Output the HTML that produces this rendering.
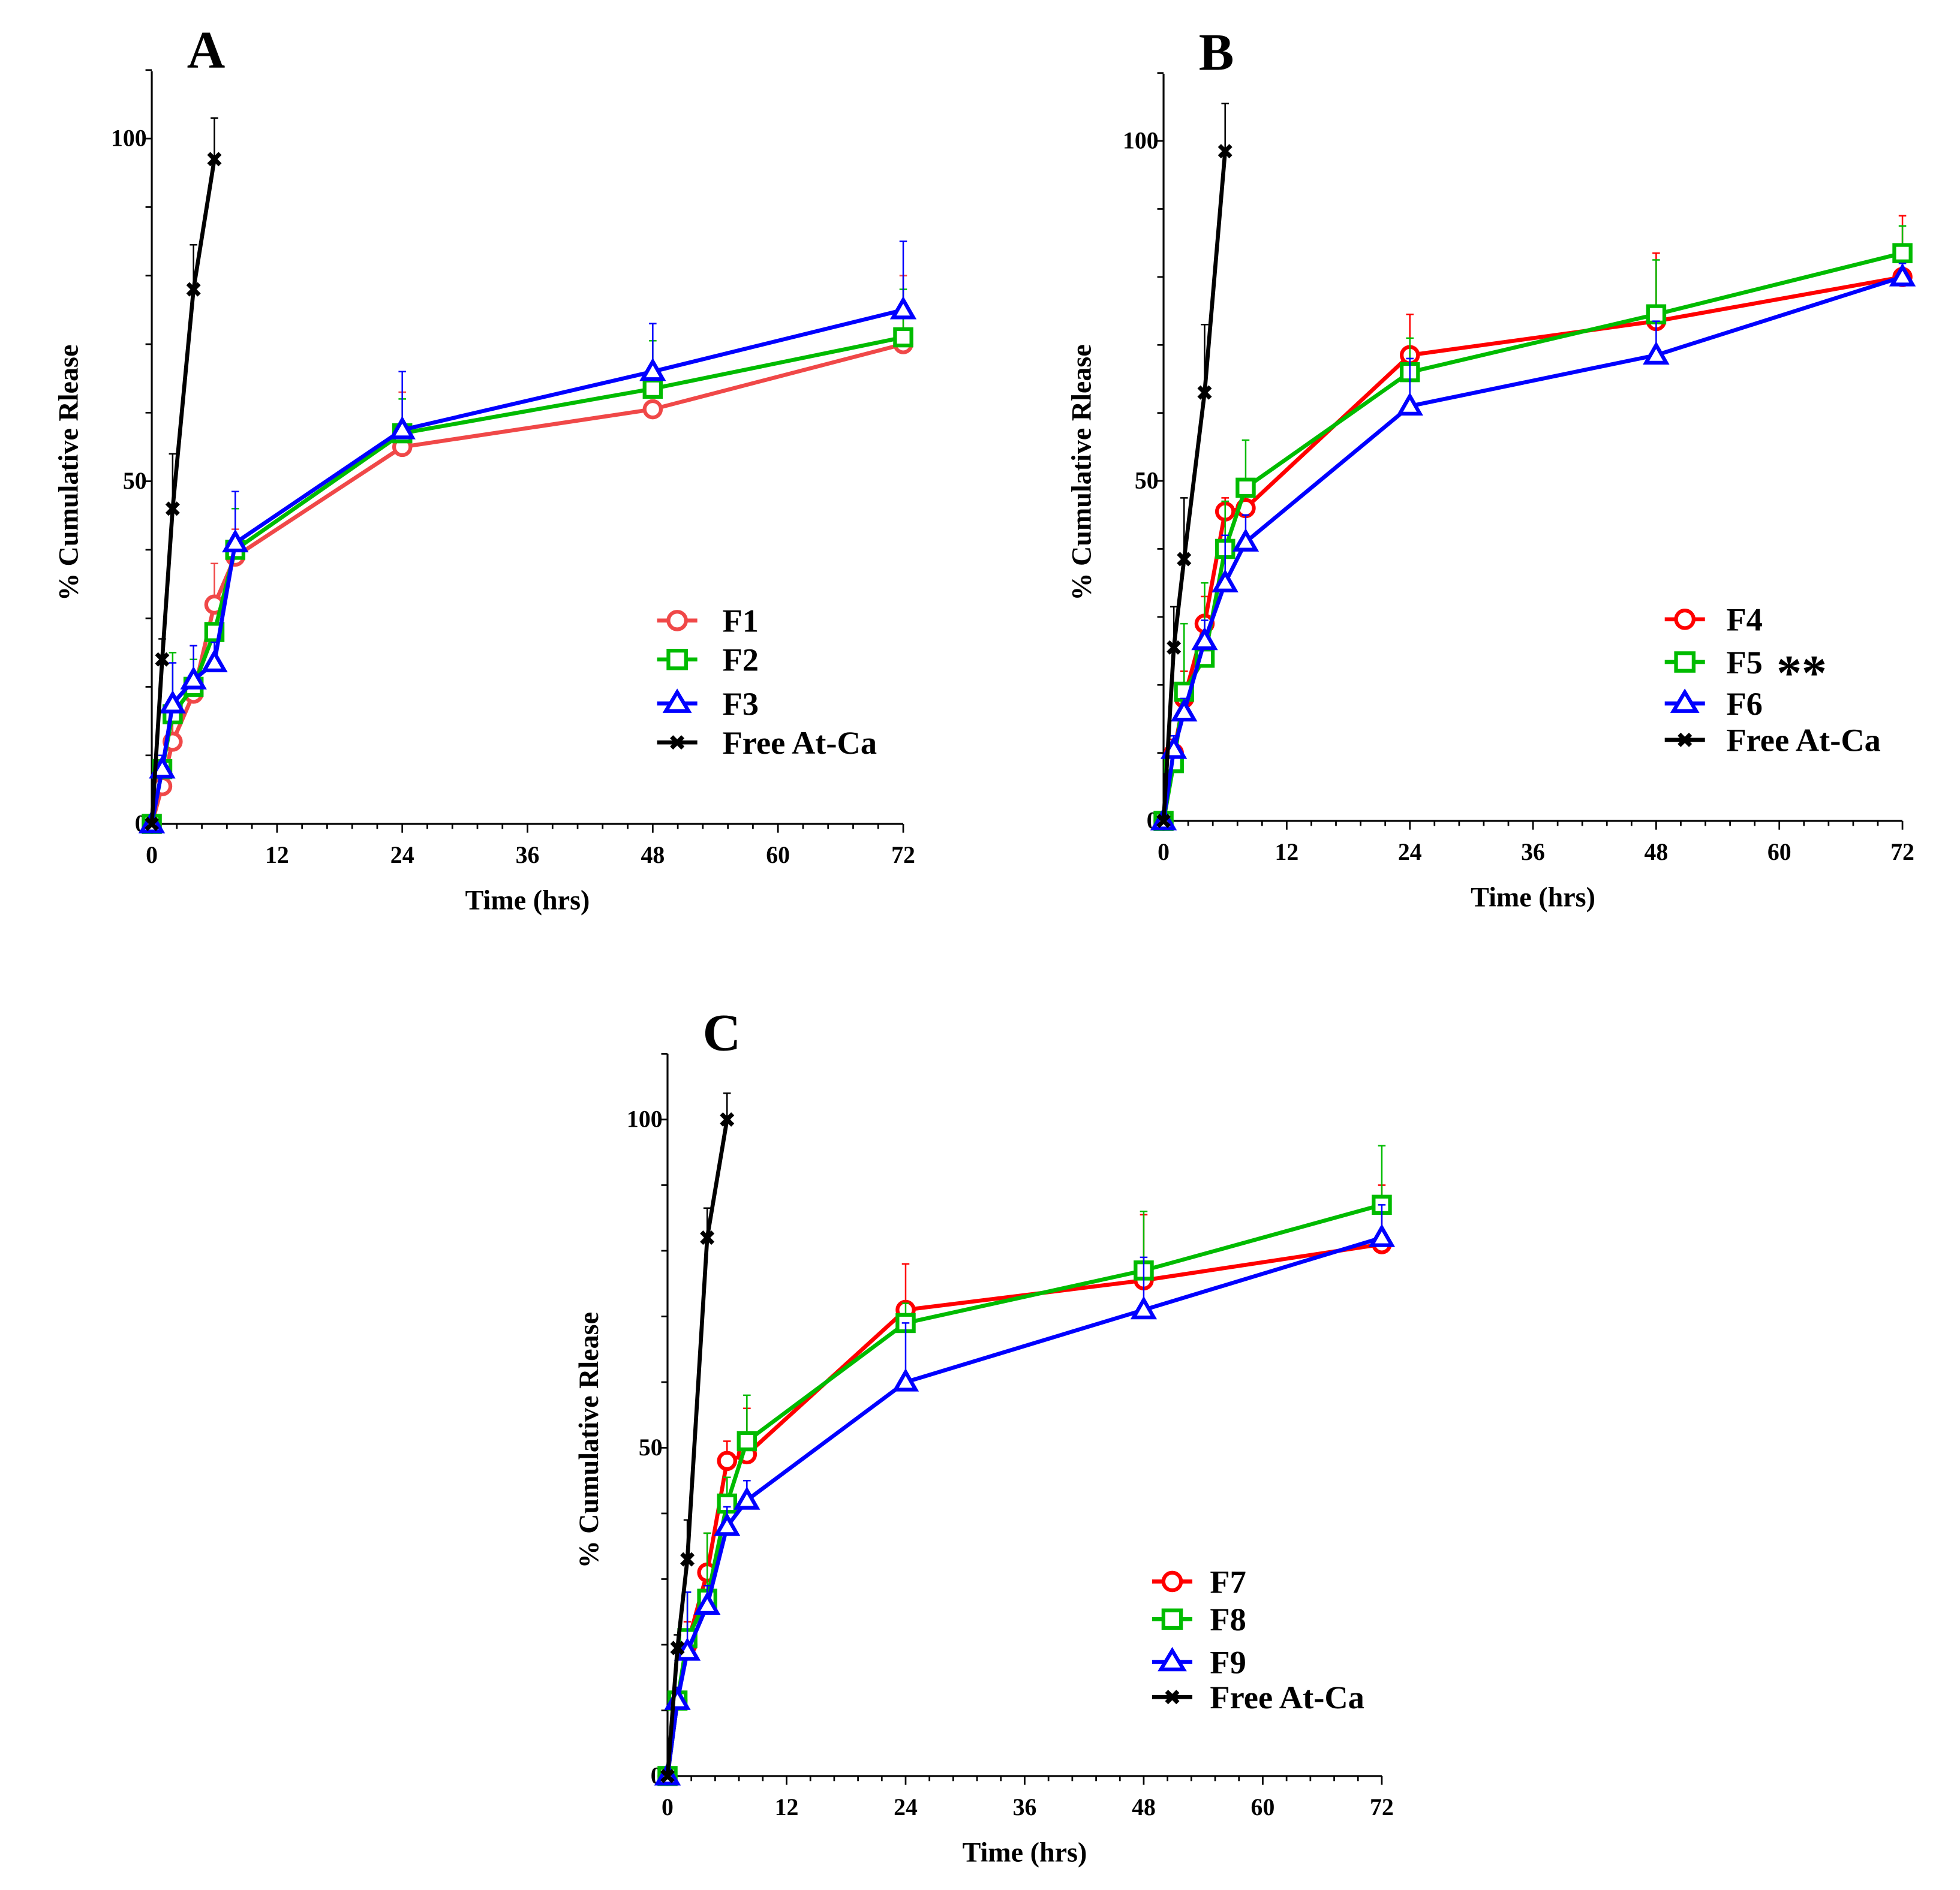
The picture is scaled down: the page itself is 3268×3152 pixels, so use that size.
<!DOCTYPE html>
<html><head><meta charset="utf-8"><style>
html,body{margin:0;padding:0;background:#fff;}
svg{display:block;font-family:"Liberation Serif",serif;font-weight:bold;}
</style></head><body>
<svg id="fig" width="3268" height="3152" viewBox="0 0 1560 1504.6" xmlns="http://www.w3.org/2000/svg"></svg>
<script>
const times=[0,1,2,4,6,8,24,48,72];
const freeTimes=[0,1,2,4,6];
// Panel A
const aF1=[0,5.5,12,19,32,39,55,60.5,70];
const aF1err=[0,2,4,7,6,4,8,0,10];
const aF2=[0,8,16,20,28,40,57,63.5,71];
const aF2err=[0,2,9,4,0,6,5,7,7];
const aF3=[0,8,17.5,21,23.5,41,57.5,66,75];
const aF3err=[0,2,6,5,3,7.5,8.5,7,10];
const aFree=[0,24,46,78,97];
const aFreeErr=[0,3,8,6.5,6];
// Panel B
const bF4=[0,10,18,29,45.5,46,68.5,73.5,80];
const bF4err=[0,2,4,4,2,3,6,10,9];
const bF5=[0,8.5,19,24,40,49,66,74.5,83.5];
const bF5err=[0,3,10,11,7,7,5,8,4];
const bF6=[0,10.5,16,26.5,35,41,61,68.5,80];
const bF6err=[0,2,2,3,7,4,7,5,2];
const bFree=[0,25.5,38.5,63,98.5];
const bFreeErr=[0,6,9,10,7];
// Panel C
const cF7=[0,11.5,20,31,48,49,71,75.5,81];
const cF7err=[0,2,3.5,6,3,7,7,10,9];
const cF8=[0,11.5,21,27,41.5,51,69,77,87];
const cF8err=[0,2,7,10,4,7,3,9,9];
const cF9=[0,11.5,19,26,38,42,60,71,82];
const cF9err=[0,2,9,3,3,3,9,8,5];
const cFree=[0,19.5,33,82,100];
const cFreeErr=[0,2,6,4.5,4];
const xTicks=[0,12,24,36,48,60,72];
const yTicks=[0,50,100];

const NS="http://www.w3.org/2000/svg";
const svg=document.getElementById('fig');
function mk(tag,attrs,parent){const e=document.createElementNS(NS,tag);for(const k in attrs)e.setAttribute(k,attrs[k]);(parent||svg).appendChild(e);return e;}

const RED='#ff0000',RED2='#f04848',GRN='#00bb00',BLU='#0000ff',BLK='#000000';

function marker(g,type,x,y,col){
  let m;
  if(type==='circle'){m=mk('circle',{cx:x,cy:y,r:6.5,fill:'#fff',stroke:col,'stroke-width':3},g);}
  else if(type==='square'){m=mk('rect',{x:x-6.5,y:y-6.5,width:13,height:13,fill:'#fff',stroke:col,'stroke-width':3},g);}
  else if(type==='tri'){m=mk('polygon',{points:`${x},${y-8} ${x-8},${y+6} ${x+8},${y+6}`,fill:'#fff',stroke:col,'stroke-width':3},g);}
  else {m=mk('path',{d:`M${x-4.5},${y-4.5}L${x+4.5},${y+4.5}M${x+4.5},${y-4.5}L${x-4.5},${y+4.5}`,stroke:col,'stroke-width':3.5},g);}
  
  
}

function panel(p){
  const g=mk('g',{});
  
  
  const sx=t=>p.x0+(p.x72-p.x0)*t/72;
  const sy=v=>p.y0-(p.y0-p.y100)*v/100;
  const ya=mk('line',{x1:p.x0,y1:p.y0,x2:p.x0,y2:p.top,stroke:'#000','stroke-width':1.5},g);
  
  const xa=mk('line',{x1:p.x0,y1:p.y0,x2:p.x72,y2:p.y0,stroke:'#000','stroke-width':1.5},g);
  
  for(let v=0;v<=110;v+=10){const y=sy(v);const big=(v%50===0);mk('line',{x1:p.x0-(big?7:5),y1:y,x2:p.x0,y2:y,stroke:'#000','stroke-width':1.3},g);}
  for(let i=0;i<=30;i++){const t=i*2.4;const x=sx(t);const big=(i%5===0);mk('line',{x1:x,y1:p.y0,x2:x,y2:p.y0+(big?7:4),stroke:'#000','stroke-width':1.3},g);}
  yTicks.forEach(v=>{const t=mk('text',{x:p.x0-4,y:sy(v)+6,'text-anchor':'end','font-size':19},g);t.textContent=v;});
  xTicks.forEach(v=>{const t=mk('text',{x:sx(v),y:p.y0+31,'text-anchor':'middle','font-size':19},g);t.textContent=v;});
  const xt=mk('text',{x:(p.x0+p.x72)/2,y:p.y0+68,'text-anchor':'middle','font-size':22},g);xt.textContent='Time (hrs)';
  
  const cy=(p.y0+p.top)/2+20;
  const yt=mk('text',{x:p.ylx,y:cy,'text-anchor':'middle','font-size':22,transform:`rotate(-90 ${p.ylx} ${cy})`},g);yt.textContent='% Cumulative Rlease';
  
  const pl=mk('text',{x:p.x0+28,y:p.top-3,'font-size':42},g);pl.textContent=p.id;
  
  p.series.forEach(s=>{
    const sg=mk('g',{},g);
    
    
    s.t.forEach((t,i)=>{if(s.err[i]>0){const x=sx(t),y1=sy(s.v[i]),y2=sy(s.v[i]+s.err[i]);
      const e=mk('path',{d:`M${x},${y1}L${x},${y2}M${x-3},${y2}L${x+3},${y2}`,stroke:s.col,'stroke-width':1.2,fill:'none'},sg);
      }});
    const pts=s.t.map((t,i)=>sx(t)+','+sy(s.v[i])).join(' ');
    const ln=mk('polyline',{points:pts,fill:'none',stroke:s.col,'stroke-width':3.2,'stroke-linejoin':'round'},sg);
    
    s.t.forEach((t,i)=>marker(sg,s.m,sx(t),sy(s.v[i]),s.col));
  });
  const lg=mk('g',{},g);
  
  p.series.forEach((s,i)=>{
    const y=p.leg.ys[i];
    const le=mk('g',{},lg);
    mk('line',{x1:p.leg.x-16,y1:y,x2:p.leg.x+16,y2:y,stroke:s.col,'stroke-width':3.2},le);
    const mm=s.m;
    if(mm==='x'){mk('path',{d:`M${p.leg.x-4.5},${y-4.5}L${p.leg.x+4.5},${y+4.5}M${p.leg.x+4.5},${y-4.5}L${p.leg.x-4.5},${y+4.5}`,stroke:s.col,'stroke-width':3.5},le);}
    else if(mm==='circle')mk('circle',{cx:p.leg.x,cy:y,r:7,fill:'#fff',stroke:s.col,'stroke-width':3},le);
    else if(mm==='square')mk('rect',{x:p.leg.x-7,y:y-7,width:14,height:14,fill:'#fff',stroke:s.col,'stroke-width':3},le);
    else mk('polygon',{points:`${p.leg.x},${y-9} ${p.leg.x-9},${y+6} ${p.leg.x+9},${y+6}`,fill:'#fff',stroke:s.col,'stroke-width':3},le);
    const tx=mk('text',{x:p.leg.tx,y:y+9,'font-size':26},le);tx.textContent=s.name;
    if(s.star){const st=mk('text',{x:p.leg.tx+40,y:y+22,'font-size':40},le);st.textContent='**';}
  });
}

panel({id:'A',x0:120.8,x72:718.9,y0:655.9,y100:110.3,top:56.7,ylx:61.7,
  leg:{x:539,tx:575,ys:[494,525,560,591]},
  series:[
   {name:'F1',t:times,v:aF1,err:aF1err,col:RED2,m:'circle'},
   {name:'F2',t:times,v:aF2,err:aF2err,col:GRN,m:'square'},
   {name:'F3',t:times,v:aF3,err:aF3err,col:BLU,m:'tri'},
   {name:'Free At-Ca',t:freeTimes,v:aFree,err:aFreeErr,col:BLK,m:'x'}]});
panel({id:'B',x0:926.1,x72:1514.2,y0:653.5,y100:112.2,top:58.7,ylx:868,
  leg:{x:1341,tx:1374,ys:[493,527,560,589]},
  series:[
   {name:'F4',t:times,v:bF4,err:bF4err,col:RED,m:'circle'},
   {name:'F5',t:times,v:bF5,err:bF5err,col:GRN,m:'square',star:true},
   {name:'F6',t:times,v:bF6,err:bF6err,col:BLU,m:'tri'},
   {name:'Free At-Ca',t:freeTimes,v:bFree,err:bFreeErr,col:BLK,m:'x'}]});
panel({id:'C',x0:531.3,x72:1099.8,y0:1413.9,y100:891.2,top:839,ylx:476,
  leg:{x:933,tx:963,ys:[1259,1289,1323,1351]},
  series:[
   {name:'F7',t:times,v:cF7,err:cF7err,col:RED,m:'circle'},
   {name:'F8',t:times,v:cF8,err:cF8err,col:GRN,m:'square'},
   {name:'F9',t:times,v:cF9,err:cF9err,col:BLU,m:'tri'},
   {name:'Free At-Ca',t:freeTimes,v:cFree,err:cFreeErr,col:BLK,m:'x'}]});
</script>
</body></html>
